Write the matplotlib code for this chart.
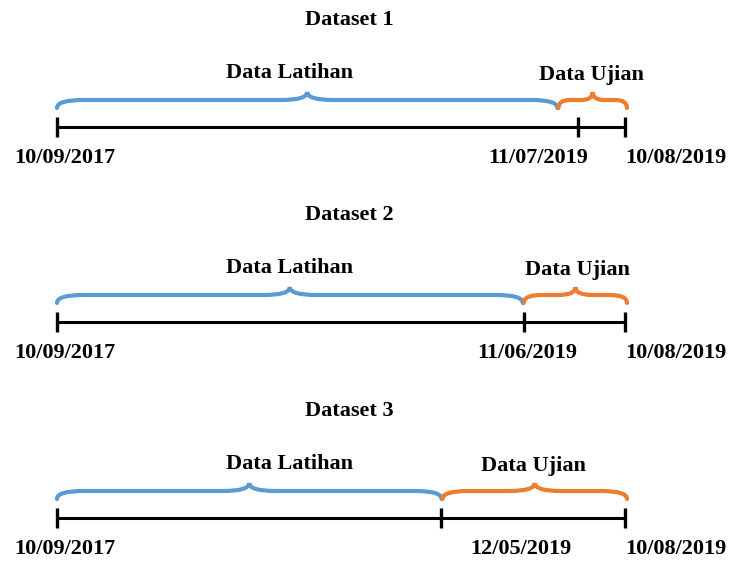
import matplotlib
matplotlib.use("Agg")
import matplotlib.pyplot as plt
from matplotlib.path import Path
from matplotlib.patches import PathPatch

# data
titles = ['Dataset 1', 'Dataset 2', 'Dataset 3']
start_date = '10/09/2017'
end_date = '10/08/2019'
split_dates = ['11/07/2019', '11/06/2019', '12/05/2019']
train_label = 'Data Latihan'
test_label = 'Data Ujian'
# relative position of the split on each timeline (schematic, not to scale)
split_pos = [0.917, 0.822, 0.676]
brace_pos = [0.881, 0.820, 0.677]

# layout (pixels)
X0, X1 = 57, 625
row_y = [127, 322, 518]
BLUE = '#5B9BD5'
ORANGE = '#ED7D31'
FONT = 'Liberation Serif'
FS = 16


def brace(ax, x0, x1, y_end, color):
    # curly brace opening downward, tip at the middle
    xm = (x0 + x1) / 2.0
    r = min(26, (x1 - x0) / 6.0)
    yf = y_end - 8
    yt = y_end - 16
    verts = [(x0, y_end), (x0, yf), (x0 + r, yf),
             (xm - r, yf), (xm, yf), (xm, yt),
             (xm, yf), (xm + r, yf),
             (x1 - r, yf), (x1, yf), (x1, y_end)]
    codes = [Path.MOVETO, Path.CURVE3, Path.CURVE3,
             Path.LINETO, Path.CURVE3, Path.CURVE3,
             Path.CURVE3, Path.CURVE3,
             Path.LINETO, Path.CURVE3, Path.CURVE3]
    ax.add_patch(PathPatch(Path(verts, codes), fill=False, edgecolor=color,
                           lw=3.0, capstyle='round'))


fig = plt.figure(figsize=(7.32, 5.64), dpi=100)
ax = fig.add_axes([0, 0, 1, 1])
ax.set_xlim(0, 732)
ax.set_ylim(564, 0)
ax.axis('off')

for i in range(len(titles)):
    y = row_y[i]
    xs = X0 + split_pos[i] * (X1 - X0)
    xb = X0 + brace_pos[i] * (X1 - X0)

    # timeline
    ax.plot([X0, X1], [y, y], color='black', lw=2.2, solid_capstyle='butt')
    for xt in [X0, xs, X1]:
        ax.plot([xt, xt], [y - 10, y + 10], color='black', lw=2.4,
                solid_capstyle='butt')

    # braces
    brace(ax, X0, xb, y - 19, BLUE)
    brace(ax, xb + 1, X1 + 2, y - 19, ORANGE)

    # texts
    ax.text(349, y - 107, titles[i], ha='center', va='center',
            fontsize=FS, fontweight='bold', family=FONT)
    ax.text(290, y - 54, train_label, ha='center', va='center',
            fontsize=FS, fontweight='bold', family=FONT)
    ax.text((xb + X1) / 2.0 + [0, 4, 0][i], y - 52, test_label, ha='center',
            va='center', fontsize=FS, fontweight='bold', family=FONT)
    ax.text(65, y + 31, start_date, ha='center', va='center',
            fontsize=FS, fontweight='bold', family=FONT)
    ax.text([538, 527, 521][i], y + 31, split_dates[i], ha='center',
            va='center', fontsize=FS, fontweight='bold', family=FONT)
    ax.text(676, y + 31, end_date, ha='center', va='center',
            fontsize=FS, fontweight='bold', family=FONT)

fig.savefig('out.png', dpi=100)
